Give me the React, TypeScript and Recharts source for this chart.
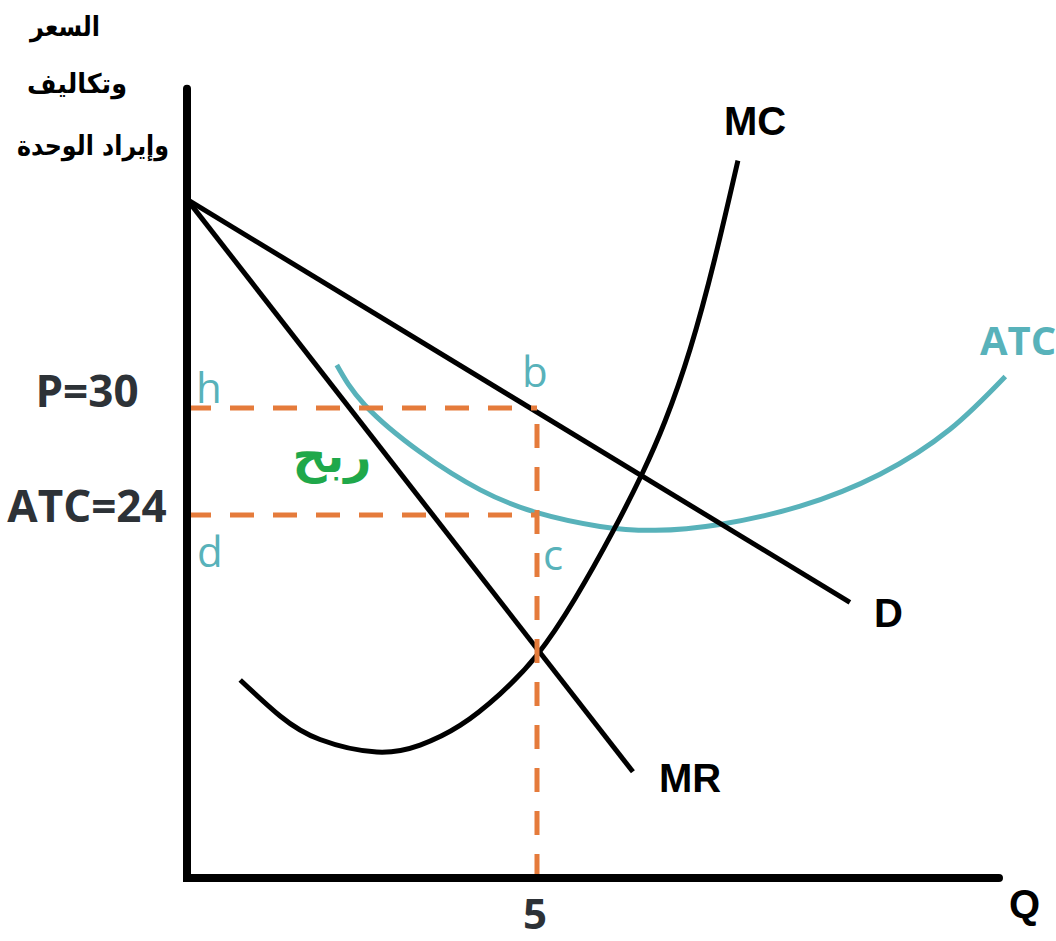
import { LineChart, Line, XAxis, YAxis } from "recharts";

// pixel scale: 70px per unit of Q, 107px per 6 units of price
const W = 1056;
const H = 941;
const PLOT_LEFT = 187;
const PLOT_BOTTOM = 878;
const PX_Q = 70;
const PX_P = 107 / 6;
const Q_MAX = (W - PLOT_LEFT) / PX_Q;
const P_MIN = 30 - (PLOT_BOTTOM - 408) / PX_P;
const P_MAX = 30 + 408 / PX_P;

const xTicks = [5];
const yTicks = [24, 30];
const yTickNames: Record<number, string> = { 30: "P=30", 24: "ATC=24" };

const demand = [
	{ q: 0, p: 41.7 },
	{ q: 9.47, p: 19.1 },
];

const marginalRevenue = [
	{ q: 0, p: 41.7 },
	{ q: 6.37, p: 9.6 },
];

const marginalCost = [
	{ q: 0.76, p: 14.75 },
	{ q: 1.33, p: 12.73 },
	{ q: 1.9, p: 11.41 },
	{ q: 2.71, p: 10.71 },
	{ q: 3.33, p: 11.1 },
	{ q: 3.9, p: 12.2 },
	{ q: 4.47, p: 13.96 },
	{ q: 5, p: 16.15 },
	{ q: 5.54, p: 19.29 },
	{ q: 6.09, p: 23.12 },
	{ q: 6.5, p: 26.3 },
	{ q: 6.83, p: 29.27 },
	{ q: 7.19, p: 33.34 },
	{ q: 7.54, p: 38.38 },
	{ q: 7.87, p: 43.87 },
];

const averageCost = [
	{ q: 2.14, p: 32.41 },
	{ q: 2.54, p: 30.17 },
	{ q: 3.33, p: 27.53 },
	{ q: 4.19, p: 25.41 },
	{ q: 5, p: 24.13 },
	{ q: 5.9, p: 23.36 },
	{ q: 6.69, p: 23.14 },
	{ q: 7.61, p: 23.47 },
	{ q: 8.76, p: 24.5 },
	{ q: 9.9, p: 26.29 },
	{ q: 10.9, p: 28.81 },
	{ q: 11.69, p: 31.77 },
];

const axesFrame = [
	{ q: 0, p: 47.9 },
	{ q: 0, p: P_MIN },
	{ q: 11.6, p: P_MIN },
];

const priceLine = [
	{ q: 0, p: 30 },
	{ q: 5, p: 30 },
];
const costLine = [
	{ q: 0, p: 24 },
	{ q: 5, p: 24 },
];
const quantityLine = [
	{ q: 5, p: P_MIN },
	{ q: 5, p: 30 },
];

const INK = "#2d3237";
const TEAL = "#58b2ba";
const ORANGE = "#e57b3b";

function YTick(props: any) {
	const { y, payload } = props;
	const dy = payload.value === 30 ? -1 : 7;
	return (
		<text
			x={87}
			y={y + dy}
			textAnchor="middle"
			fontFamily="Open Sans"
			fontWeight={700}
			fontSize={44}
			fill={INK}
		>
			{yTickNames[payload.value]}
		</text>
	);
}

function XTick(props: any) {
	const { x, payload } = props;
	return (
		<text
			x={x - 2}
			y={929}
			textAnchor="middle"
			fontFamily="Open Sans"
			fontWeight={700}
			fontSize={42}
			fill={INK}
		>
			{payload.value}
		</text>
	);
}

export default function App() {
	const curve = { dataKey: "p", dot: false, activeDot: false, isAnimationActive: false };
	const dashed = { ...curve, stroke: ORANGE, strokeWidth: 5, strokeDasharray: "24 19", type: "linear" as const };
	return (
		<div
			style={{
				position: "absolute",
				left: 0,
				top: 0,
				width: W,
				height: H,
				overflow: "hidden",
				background: "#ffffff",
			}}
		>
			<LineChart width={W} height={H} margin={{ top: 0, right: 0, bottom: 0, left: 0 }}>
				<XAxis
					type="number"
					dataKey="q"
					domain={[0, Q_MAX]}
					ticks={xTicks}
					height={H - PLOT_BOTTOM}
					axisLine={false}
					tickLine={false}
					tick={<XTick />}
				/>
				<YAxis
					type="number"
					domain={[P_MIN, P_MAX]}
					ticks={yTicks}
					width={PLOT_LEFT}
					axisLine={false}
					tickLine={false}
					tick={<YTick />}
				/>
				<Line {...curve} data={averageCost} type="natural" stroke={TEAL} strokeWidth={5} />
				<Line {...curve} data={demand} type="linear" stroke="#000" strokeWidth={5} />
				<Line {...curve} data={marginalRevenue} type="linear" stroke="#000" strokeWidth={5} />
				<Line {...curve} data={marginalCost} type="natural" stroke="#000" strokeWidth={5} />
				<Line {...dashed} data={priceLine} />
				<Line {...dashed} data={costLine} />
				<Line {...dashed} data={quantityLine} />
				<Line
					{...curve}
					data={axesFrame}
					type="linear"
					stroke="#000"
					strokeWidth={8}
					strokeLinecap="round"
				/>
			</LineChart>
			<svg
				width={W}
				height={H}
				style={{ position: "absolute", left: 0, top: 0, pointerEvents: "none" }}
			>
				<g fontFamily="DejaVu Sans" fontWeight={700} fontSize={27} fill="#000" textAnchor="middle">
					<text x={65} y={36} direction="rtl" textLength={70} lengthAdjust="spacingAndGlyphs">السعر</text>
					<text x={77} y={93} direction="rtl" textLength={100} lengthAdjust="spacingAndGlyphs">وتكاليف</text>
					<text x={93} y={155} direction="rtl" textLength={152} lengthAdjust="spacingAndGlyphs">وإيراد الوحدة</text>
				</g>
				<g fontFamily="Liberation Sans" fontWeight={700} fontSize={40} fill="#000">
					<text x={724} y={135}>MC</text>
					<text x={874} y={627}>D</text>
					<text x={659} y={792}>MR</text>
					<text x={1009} y={918}>Q</text>
				</g>
				<text x={980} y={355} fontFamily="Open Sans" fontWeight={700} fontSize={40} fill={TEAL}>
					ATC
				</text>
				<g fontFamily="Open Sans" fontSize={42} fill={TEAL}>
					<text x={196} y={403}>h</text>
					<text x={522} y={387}>b</text>
					<text x={197} y={567}>d</text>
					<text x={543} y={570}>c</text>
				</g>
				<text
					x={332}
					y={472}
					textAnchor="middle"
					direction="rtl"
					fontFamily="DejaVu Sans"
					fontWeight={700}
					fontSize={48}
					textLength={79}
					lengthAdjust="spacingAndGlyphs"
					fill="#1fa84a"
				>
					ربح
				</text>
			</svg>
		</div>
	);
}
